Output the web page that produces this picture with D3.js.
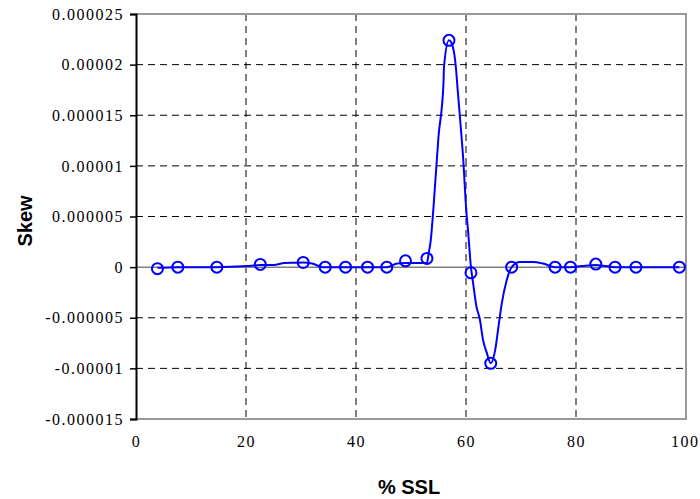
<!DOCTYPE html>
<html>
<head>
<meta charset="utf-8">
<script src="https://cdn.jsdelivr.net/npm/d3@7"></script>
<style>
  body { margin: 0; background: #fff; }
  .title { font-family: "Liberation Sans", Arial, sans-serif; font-size: 20px; font-weight: bold; }
</style>
</head>
<body>
<div id="chart"></div>
<script>
// line values (x in % SSL, y in units of 1e-6)
let lineX = [3.9, 7.6, 14.7, 20.0, 22.6, 25.0, 27.0, 29.0, 30.4, 32.0, 34.0, 38.1, 42.1, 45.6, 47.5, 49.0,
  50.5, 52.9, 53.2, 53.6, 54.05, 55.0, 55.9, 56.0, 56.9, 57.4, 58.2, 58.4, 58.9, 59.5, 60.0, 60.4, 60.9,
  61.3, 61.9, 62.5, 63.1, 63.8, 64.5, 65.3, 65.9, 66.5, 67.4, 68.3, 69.8, 72.2, 74.0, 76.2, 79.0, 81.0,
  83.6, 85.5, 87.1, 90.9, 98.8];
let lineY = [-0.07, 0, 0, 0.1, 0.2, 0.2, 0.4, 0.43, 0.45, 0.35, 0, 0, 0, 0, 0.35, 0.4,
  0.4, 0.4, 1.3, 2.7, 5.6, 12.9, 18.1, 19.8, 22.4, 22.1, 19.5, 18.1, 14.8, 10.6, 6.0, 3.4, 0,
  -1.6, -3.9, -5.1, -7.2, -8.5, -9.5, -8.2, -5.9, -3.6, -1.3, 0, 0.5, 0.5, 0.35, 0, 0, 0.1,
  0.2, 0.1, 0, 0, 0];

// marker values
let markX = [3.9, 7.6, 14.7, 22.6, 30.4, 34.4, 38.1, 42.1, 45.6, 49.0, 52.9, 56.9, 60.9, 64.5,
  68.3, 76.2, 79.0, 83.6, 87.1, 90.9, 98.8];
let markY = [-0.15, 0, 0, 0.27, 0.46, 0, 0, 0, 0, 0.62, 0.86, 22.4, -0.56, -9.5,
  0, 0, 0, 0.3, 0, 0, 0];

let xTicks = [0, 20, 40, 60, 80, 100];
let yTicks = [-15, -10, -5, 0, 5, 10, 15, 20, 25];
let yTickLabels = ['-0.000015', '-0.00001', '-0.000005', '0', '0.000005', '0.00001', '0.000015', '0.00002', '0.000025'];

let svgWidth = 700;
let svgHeight = 499;
let margin = { top: 14, right: 14, bottom: 80, left: 136 };
let width = svgWidth - margin.left - margin.right;
let height = svgHeight - margin.top - margin.bottom;

let svg = d3.select('#chart').append('svg')
  .attr('width', svgWidth)
  .attr('height', svgHeight);

let g = svg.append('g')
  .attr('transform', `translate(${margin.left}, ${margin.top})`);

let x = d3.scaleLinear().domain([0, 100]).range([0, width]);
let y = d3.scaleLinear().domain([-15, 25]).range([height, 0]);

// dashed grid
g.selectAll('.vgrid')
  .data(xTicks.filter(d => d > 0 && d < 100))
  .enter().append('line')
  .attr('x1', d => x(d)).attr('x2', d => x(d))
  .attr('y1', 0).attr('y2', height)
  .attr('stroke', '#000').attr('stroke-width', 1).attr('stroke-dasharray', '7,5');

g.selectAll('.hgrid')
  .data(yTicks.filter(d => d !== 0 && d > -15 && d < 25))
  .enter().append('line')
  .attr('x1', 0).attr('x2', width)
  .attr('y1', d => y(d)).attr('y2', d => y(d))
  .attr('stroke', '#000').attr('stroke-width', 1).attr('stroke-dasharray', '7,5');

// zero line and frame
g.append('line')
  .attr('x1', 0).attr('x2', width)
  .attr('y1', y(0)).attr('y2', y(0))
  .attr('stroke', '#808080').attr('stroke-width', 1.5);

g.append('path')
  .attr('d', `M0,0H${width}V${height}H0`)
  .attr('fill', 'none').attr('stroke', '#999').attr('stroke-width', 2);

// axes
let xAxis = g.append('g')
  .attr('transform', `translate(0, ${height})`)
  .call(d3.axisBottom(x).tickValues(xTicks).tickSize(0).tickPadding(17));
xAxis.select('.domain').remove();
// last label sits at the window edge; keep it inside
xAxis.selectAll('.tick text').filter(d => d === 100)
  .attr('text-anchor', 'end')
  .attr('dx', 13);

let yAxis = g.append('g')
  .call(d3.axisLeft(y).tickValues(yTicks).tickSize(6).tickPadding(6)
    .tickFormat((d, i) => yTickLabels[i]));
yAxis.select('.domain').attr('stroke', '#000').attr('stroke-width', 2);
yAxis.selectAll('.tick line').attr('stroke-width', 1.5);

[xAxis, yAxis].forEach(a => a
  .attr('font-family', 'Liberation Serif')
  .attr('font-size', 16)
  .attr('letter-spacing', 1.5));

// line series
let pts = lineX.map((d, i) => [d, lineY[i]]);
let line = d3.line()
  .x(d => x(d[0]))
  .y(d => y(d[1]))
  .curve(d3.curveMonotoneX);

g.append('path')
  .datum(pts)
  .attr('d', line)
  .attr('fill', 'none')
  .attr('stroke', '#0000ff')
  .attr('stroke-width', 2);

// markers
g.selectAll('.mark')
  .data(markX)
  .enter().append('circle')
  .attr('cx', d => x(d))
  .attr('cy', (d, i) => y(markY[i]))
  .attr('r', 5.5)
  .attr('fill', 'none')
  .attr('stroke', '#0000ff')
  .attr('stroke-width', 2);

// titles
svg.append('text')
  .classed('title', true)
  .attr('x', 409).attr('y', 494)
  .attr('text-anchor', 'middle')
  .text('% SSL');

svg.append('text')
  .classed('title', true)
  .attr('transform', 'translate(32, 221) rotate(-90)')
  .attr('text-anchor', 'middle')
  .text('Skew');
</script>
</body>
</html>
